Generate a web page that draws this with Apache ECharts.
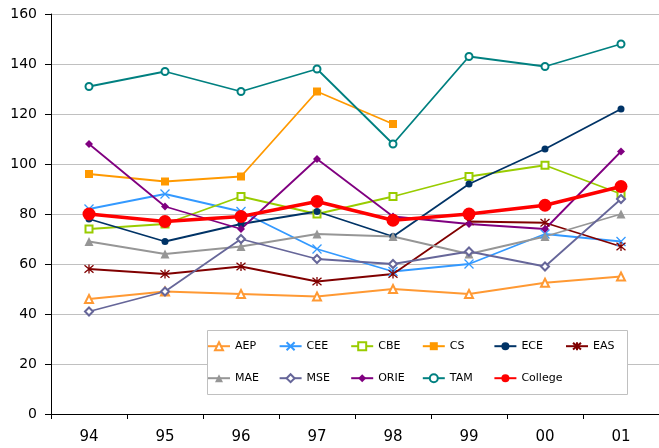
<!DOCTYPE html>
<html>
<head>
<meta charset="utf-8">
<script src="https://cdn.jsdelivr.net/npm/echarts@6/dist/echarts.min.js"></script>
<style>
  html, body { margin: 0; padding: 0; background: #fff; }
  #container { width: 659px; height: 448px; }
</style>
</head>
<body>
<div id="container"></div>
<script>
var years = ['94', '95', '96', '97', '98', '99', '00', '01'];

var aep = [46, 49, 48, 47, 50, 48, 52.5, 55];
var cee = [82, 88, 81, 66, 57, 60, 72, 69];
var cbe = [74, 76, 87, 80, 87, 95, 99.5, 88];
var cs = [96, 93, 95, 129, 116, '-', '-', '-'];
var ece = [78, 69, 76, 81, 71, 92, 106, 122];
var eas = [58, 56, 59, 53, 56, 77, 76.5, 67];
var mae = [69, 64, 67, 72, 71, 64, 71, 80];
var mse = [41, 49, 70, 62, 60, 65, 59, 86];
var orie = [108, 83, 74, 102, 79, 76, 74, 105];
var tam = [131, 137, 129, 138, 108, 143, 139, 148];
var college = [80, 77, 79, 85, 77.5, 80, 83.5, 91];

var font = 'DejaVu Sans';
var crossPath = 'path://M0,0L10,10M10,0L0,10';
var starPath = 'path://M0,0L10,10M10,0L0,10M5,-1L5,11';

// one line series
function mkLine(name, data, color, symbol, size, opts) {
  opts = opts || {};
  var s = {
    name: name,
    type: 'line',
    data: data,
    symbol: symbol,
    symbolSize: size,
    lineStyle: { color: color, width: opts.width || 1.8 },
    itemStyle: { color: color },
    z: opts.z || 2
  };
  if (opts.stroke) {
    s.itemStyle = { color: color, borderColor: color, borderWidth: 1.3 };
  }
  return s;
}

var dom = document.getElementById('container');
var myChart = echarts.init(dom, null, { renderer: 'canvas' });

var option = {
  animation: false,
  backgroundColor: '#fff',
  grid: { left: 51, right: -6, top: 14, bottom: 34 },
  xAxis: {
    type: 'category',
    data: years,
    boundaryGap: true,
    axisLine: { lineStyle: { color: '#000', width: 1 } },
    axisTick: { show: true, length: 5, lineStyle: { color: '#000' } },
    axisLabel: { color: '#000', fontSize: 15, fontFamily: font, margin: 16 },
    splitLine: { show: false }
  },
  yAxis: {
    type: 'value',
    min: 0,
    max: 160,
    interval: 20,
    axisLine: { show: true, lineStyle: { color: '#000', width: 1 } },
    axisTick: { show: true, length: 6, lineStyle: { color: '#000' } },
    axisLabel: { color: '#000', fontSize: 14, fontFamily: font, margin: 14 },
    splitLine: { show: true, lineStyle: { color: '#c0c0c0', width: 1 } }
  },
  legend: {
    left: 207,
    top: 334,
    width: 440,
    padding: 0,
    itemWidth: 22,
    itemHeight: 10,
    itemGap: 7.6,
    textStyle: { color: '#000', fontSize: 11, fontFamily: font, width: 36, lineHeight: 24.4 },
    z: 10
  },
  graphic: [{
    type: 'rect',
    z: 3,
    shape: { x: 207.5, y: 330.5, width: 420, height: 64 },
    style: { fill: '#fff', stroke: '#c0c0c0', lineWidth: 1 }
  }],
  series: [
    mkLine('AEP', aep, '#FF9933', 'emptyTriangle', 8),
    mkLine('CEE', cee, '#3399FF', crossPath, 9, { stroke: true }),
    mkLine('CBE', cbe, '#99CC00', 'emptyRect', 7),
    mkLine('CS', cs, '#FF9900', 'rect', 8),
    mkLine('ECE', ece, '#003366', 'circle', 7),
    mkLine('EAS', eas, '#800000', starPath, 9, { stroke: true }),
    mkLine('MAE', mae, '#969696', 'triangle', 9),
    mkLine('MSE', mse, '#666699', 'emptyDiamond', 8),
    mkLine('ORIE', orie, '#800080', 'diamond', 8),
    mkLine('TAM', tam, '#008080', 'emptyCircle', 7),
    mkLine('College', college, '#FF0000', 'circle', 13, { width: 3.5, z: 4 })
  ]
};

myChart.setOption(option);
window.addEventListener('resize', myChart.resize);
</script>
</body>
</html>
